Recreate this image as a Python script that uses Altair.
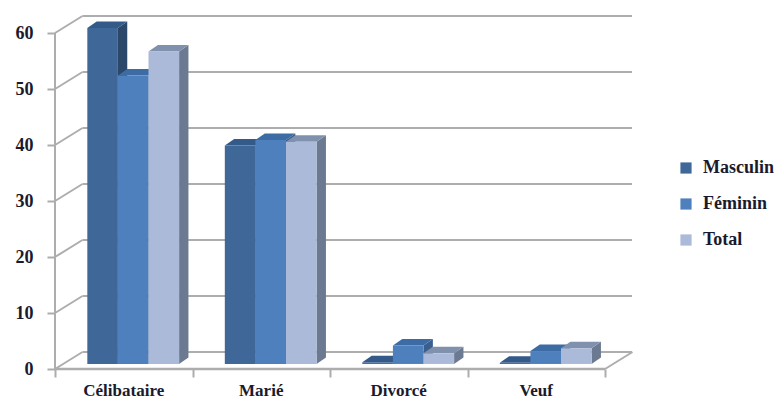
import altair as alt
import pandas as pd

categories = ["Célibataire", "Marié", "Divorcé", "Veuf"]
series = ["Masculin", "Féminin", "Total"]
masculin = [60, 39, 0.3, 0.2]
feminin = [51.5, 40, 3.3, 2.3]
total = [55.8, 39.7, 1.9, 2.8]
ticks_y = [0, 10, 20, 30, 40, 50, 60]
ticks_x = [0, 1, 2, 3, 4]
front = ["#3F6899", "#4E80BD", "#ABBAD9"]
top_c = ["#335A88", "#3C6CA3", "#8091AD"]
side = ["#2B4769", "#3A5F8E", "#6B7A90"]
grid_c = "#ADADAD"
font = "Liberation Serif"

W, H = 577, 354
XMAX = W / 137.5
YMAX = H / 5.6
DX, DY = 0.2, 3.04        # depth of walls
INSET, BW, BASE = 0.235, 0.2225, 0.9
BDX, BDY = 0.068, 1.16    # depth of bars

xs = alt.Scale(domain=[0, XMAX], nice=False, zero=False)
ys = alt.Scale(domain=[0, YMAX], nice=False, zero=False)
AX = alt.Axis(values=ticks_x, domain=False, grid=False, tickSize=8, tickWidth=2, tickColor=grid_c,
              labels=False, title=None)
AY = alt.Axis(values=ticks_y, domain=False, grid=False, tickSize=8, tickWidth=2, tickColor=grid_c,
              labelFont=font, labelFontSize=18, labelFontWeight="bold", labelColor="#1A1A2E",
              labelPadding=14, title=None)
X = lambda f: alt.X(f, type="quantitative", scale=xs, axis=AX)
Y = lambda f: alt.Y(f, type="quantitative", scale=ys, axis=AY)

layers = []

# walls
walls = pd.DataFrame({"v": ticks_y})
walls["x0"] = DX
walls["x1"] = XMAX
walls["y"] = walls.v + DY
layers.append(alt.Chart(walls).mark_rule(color=grid_c, strokeWidth=2).encode(
    x=X("x0"), x2="x1", y=Y("y")))
walls2 = pd.DataFrame({"v": ticks_y})
walls2["x0"] = 0.0
walls2["x1"] = DX
walls2["y1"] = walls2.v + DY
layers.append(alt.Chart(walls2).mark_rule(color=grid_c, strokeWidth=2).encode(
    x=X("x0"), x2="x1", y=Y("v"), y2="y1"))
layers.append(alt.Chart(pd.DataFrame({"x": [0.0], "a": [0], "b": [60]})).mark_rule(
    color=grid_c, strokeWidth=2).encode(x=X("x"), y=Y("a"), y2="b"))
layers.append(alt.Chart(pd.DataFrame({"a": [0.0], "b": [4.0], "y": [0]})).mark_rule(
    color=grid_c, strokeWidth=2.5).encode(x=X("a"), x2="b", y=Y("y")))
layers.append(alt.Chart(pd.DataFrame({"a": [4.0], "b": [4.0 + DX], "y": [0], "y1": [DY]})).mark_rule(
    color=grid_c, strokeWidth=2).encode(x=X("a"), x2="b", y=Y("y"), y2="y1"))

# bars
for s, (name, vals) in enumerate(zip(series, [masculin, feminin, total])):
    side_rows, top_rows, front_rows = [], [], []
    for c, v in enumerate(vals):
        xl = c + INSET + s * BW
        xr = xl + BW
        t = BASE + v
        side_rows += [dict(b=c, x=xr, lo=BASE, hi=t), dict(b=c, x=xr + BDX, lo=BASE + BDY, hi=t + BDY)]
        top_rows += [dict(b=c, y=t, a=xl, z=xr), dict(b=c, y=t + BDY, a=xl + BDX, z=xr + BDX)]
        front_rows.append(dict(s=name, a=xl, z=xr, lo=BASE, hi=t))
    layers.append(alt.Chart(pd.DataFrame(side_rows)).mark_area(color=side[s], opacity=1).encode(
        x=X("x"), y=Y("lo"), y2="hi", detail="b:N"))
    layers.append(alt.Chart(pd.DataFrame(top_rows)).mark_area(color=top_c[s], opacity=1, orient="horizontal").encode(
        y=Y("y"), x=X("a"), x2="z", detail="b:N"))
    layers.append(alt.Chart(pd.DataFrame(front_rows)).mark_rect().encode(
        x=X("a"), x2="z", y=Y("lo"), y2="hi",
        color=alt.Color("s:N", scale=alt.Scale(domain=series, range=front), legend=alt.Legend(
            title=None, orient="none", legendX=622, legendY=144, symbolType="square", symbolSize=125,
            symbolStrokeWidth=0, labelFont=font, labelFontSize=18, labelFontWeight="bold",
            labelColor="#1A1A2E", labelOffset=8, rowPadding=18, labelLimit=120, symbolOpacity=1))))

# category labels
labs = pd.DataFrame({"c": categories, "x": [i + 0.5 for i in range(4)]})
layers.append(alt.Chart(labs).mark_text(
    font=font, fontSize=17, fontWeight="bold", color="#1A1A2E", baseline="middle").encode(
    x=X("x"), y=alt.value(376), text="c:N"))

chart = alt.layer(*layers).properties(
    width=W, height=H, autosize=alt.AutoSizeParams(type="none"),
    padding={"left": 47, "top": 7, "right": 142, "bottom": 33},
).configure_view(stroke=None)

chart.save("out.html", embed_options={"renderer": "svg", "actions": False})
